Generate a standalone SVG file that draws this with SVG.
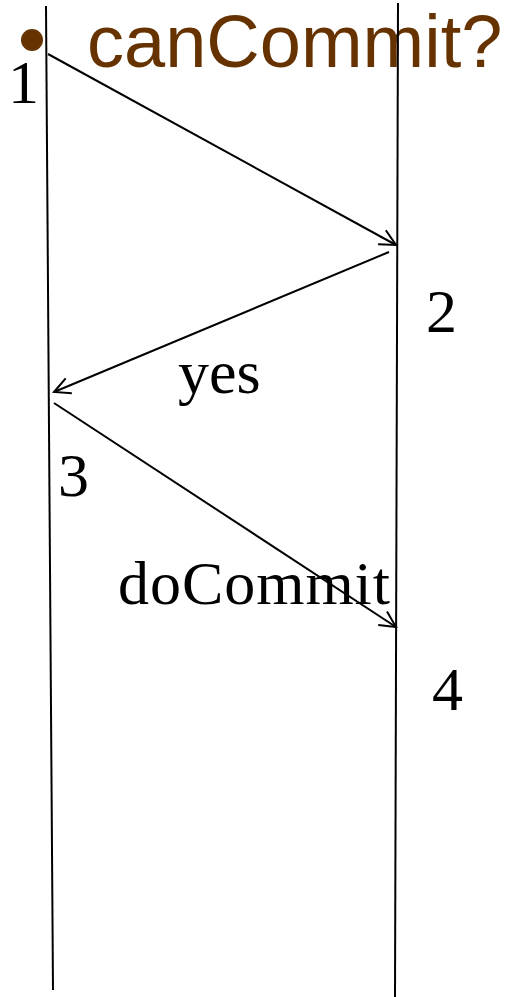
<svg xmlns="http://www.w3.org/2000/svg" width="507" height="997" viewBox="0 0 507 997">
<style>
.ln{stroke:#000;stroke-width:2;fill:none}
.lbl{font-family:"Liberation Serif","Times New Roman",serif;font-size:62px;fill:#000}
.title{font-family:"Liberation Sans",Arial,sans-serif;font-size:74px;fill:#663300}
</style>
<defs>
<marker id="arr" viewBox="0 0 20 20" refX="18" refY="10" markerWidth="20" markerHeight="20" markerUnits="userSpaceOnUse" orient="auto">
<path d="M2,2 L18,10 L2,18" stroke="#000" stroke-width="2" fill="none"/>
</marker>
</defs>
<g id="title">
<circle cx="32" cy="40" r="11" fill="#663300"/>
<text class="title" x="87" y="67">canCommit?</text>
</g>
<g id="lifelines">
<line class="ln" x1="46" y1="6" x2="53" y2="990"/>
<line class="ln" x1="398" y1="3" x2="395" y2="997"/>
</g>
<g id="connectors">
<line class="ln" x1="48" y1="54" x2="396" y2="245" marker-end="url(#arr)"/>
<line class="ln" x1="389" y1="252" x2="54" y2="392" marker-end="url(#arr)"/>
<line class="ln" x1="54" y1="403" x2="396" y2="627" marker-end="url(#arr)"/>
</g>
<g id="labels">
<text class="lbl" x="8" y="103">1</text>
<text class="lbl" x="426" y="332">2</text>
<text class="lbl" x="178" y="393">yes</text>
<text class="lbl" x="58" y="496">3</text>
<text class="lbl" x="118" y="604" textLength="272">doCommit</text>
<text class="lbl" x="432" y="710">4</text>
</g>
</svg>
